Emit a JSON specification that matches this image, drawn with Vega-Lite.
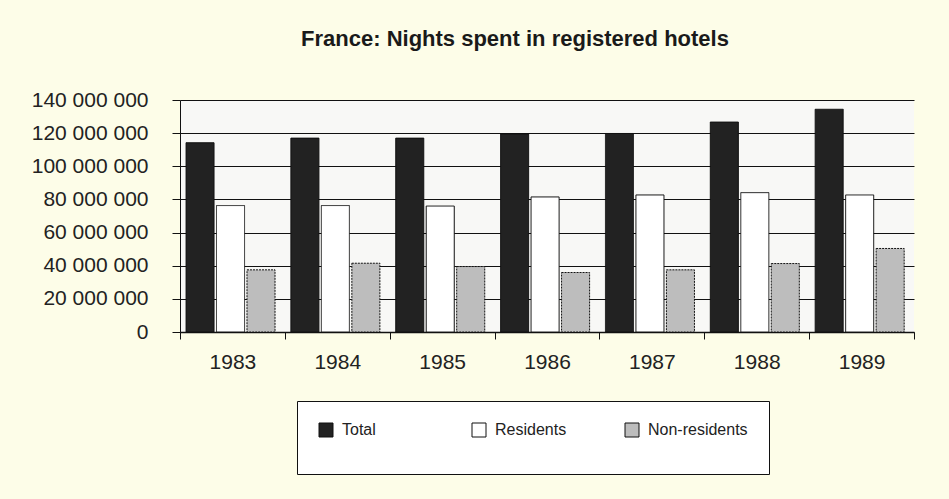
{
  "$schema": "https://vega.github.io/schema/vega-lite/v6.json",
  "autosize": "none",
  "width": 734,
  "height": 232,
  "padding": {"left": 180, "top": 100, "right": 35, "bottom": 167},
  "background": "#fdfde8",
  "title": {
    "text": "France: Nights spent in registered hotels",
    "font": "Liberation Sans",
    "fontSize": 22,
    "fontWeight": "bold",
    "color": "#1a1a1a",
    "anchor": "middle",
    "dx": -32,
    "offset": 38
  },
  "data": {
    "values": [
      {"year": "1983", "series": "Total", "nights": 114200000},
      {"year": "1983", "series": "Residents", "nights": 76300000},
      {"year": "1983", "series": "Non-residents", "nights": 37500000},
      {"year": "1984", "series": "Total", "nights": 117000000},
      {"year": "1984", "series": "Residents", "nights": 76300000},
      {"year": "1984", "series": "Non-residents", "nights": 41500000},
      {"year": "1985", "series": "Total", "nights": 117000000},
      {"year": "1985", "series": "Residents", "nights": 76000000},
      {"year": "1985", "series": "Non-residents", "nights": 39500000},
      {"year": "1986", "series": "Total", "nights": 119500000},
      {"year": "1986", "series": "Residents", "nights": 81500000},
      {"year": "1986", "series": "Non-residents", "nights": 35900000},
      {"year": "1987", "series": "Total", "nights": 119800000},
      {"year": "1987", "series": "Residents", "nights": 82700000},
      {"year": "1987", "series": "Non-residents", "nights": 37500000},
      {"year": "1988", "series": "Total", "nights": 126700000},
      {"year": "1988", "series": "Residents", "nights": 84100000},
      {"year": "1988", "series": "Non-residents", "nights": 41300000},
      {"year": "1989", "series": "Total", "nights": 134400000},
      {"year": "1989", "series": "Residents", "nights": 82700000},
      {"year": "1989", "series": "Non-residents", "nights": 50400000}
    ]
  },
  "mark": {"type": "bar", "stroke": "#111", "strokeWidth": 1},
  "encoding": {
    "x": {
      "field": "year",
      "type": "nominal",
      "scale": {"paddingInner": 0, "paddingOuter": 0},
      "axis": {
        "title": null,
        "labelAngle": 0,
        "tickBand": "extent",
        "domainColor": "#111",
        "domainWidth": 1.5,
        "tickColor": "#111",
        "tickSize": 7,
        "labelPadding": 12,
        "labelFont": "Liberation Sans",
        "labelFontSize": 21,
        "labelColor": "#222",
        "grid": false
      }
    },
    "xOffset": {
      "field": "series",
      "type": "nominal",
      "sort": ["Total", "Residents", "Non-residents"],
      "scale": {"paddingInner": 0.08, "paddingOuter": 0.26, "align": 0.38}
    },
    "y": {
      "field": "nights",
      "type": "quantitative",
      "scale": {"domain": [0, 140000000], "nice": false},
      "axis": {
        "title": null,
        "values": [0, 20000000, 40000000, 60000000, 80000000, 100000000, 120000000, 140000000],
        "format": ",d",
        "domainColor": "#111",
        "tickColor": "#111",
        "tickSize": 8,
        "labelPadding": 24,
        "labelFont": "Liberation Sans",
        "labelFontSize": 21,
        "labelColor": "#222",
        "grid": true,
        "gridColor": "#111",
        "gridWidth": 1
      }
    },
    "strokeDash": {
      "condition": {"test": "datum.series === 'Non-residents'", "value": [2, 1]},
      "value": [1, 0]
    },
    "fill": {
      "field": "series",
      "type": "nominal",
      "sort": ["Total", "Residents", "Non-residents"],
      "scale": {"domain": ["Total", "Residents", "Non-residents"], "range": ["#222222", "#ffffff", "#bdbdbd"]},
      "legend": {
        "title": " ",
        "titleOrient": "bottom",
        "titleFontSize": 10,
        "titlePadding": 4,
        "orient": "none",
        "legendX": 117,
        "legendY": 301,
        "direction": "horizontal",
        "columns": 3,
        "gridAlign": "all",
        "columnPadding": 28,
        "padding": 21,
        "fillColor": "#ffffff",
        "strokeColor": "#111",
        "symbolType": "square",
        "symbolSize": 196,
        "symbolStrokeColor": "#111",
        "symbolStrokeWidth": 1,
        "symbolOpacity": 1,
        "labelFont": "Liberation Sans",
        "labelFontSize": 16,
        "labelColor": "#222",
        "labelOffset": 8
      }
    }
  },
  "config": {
    "locale": {"number": {"decimal": ",", "thousands": " ", "grouping": [3], "currency": ["", " €"]}},
    "view": {"fill": "#f8f8f6", "stroke": null}
  }
}
